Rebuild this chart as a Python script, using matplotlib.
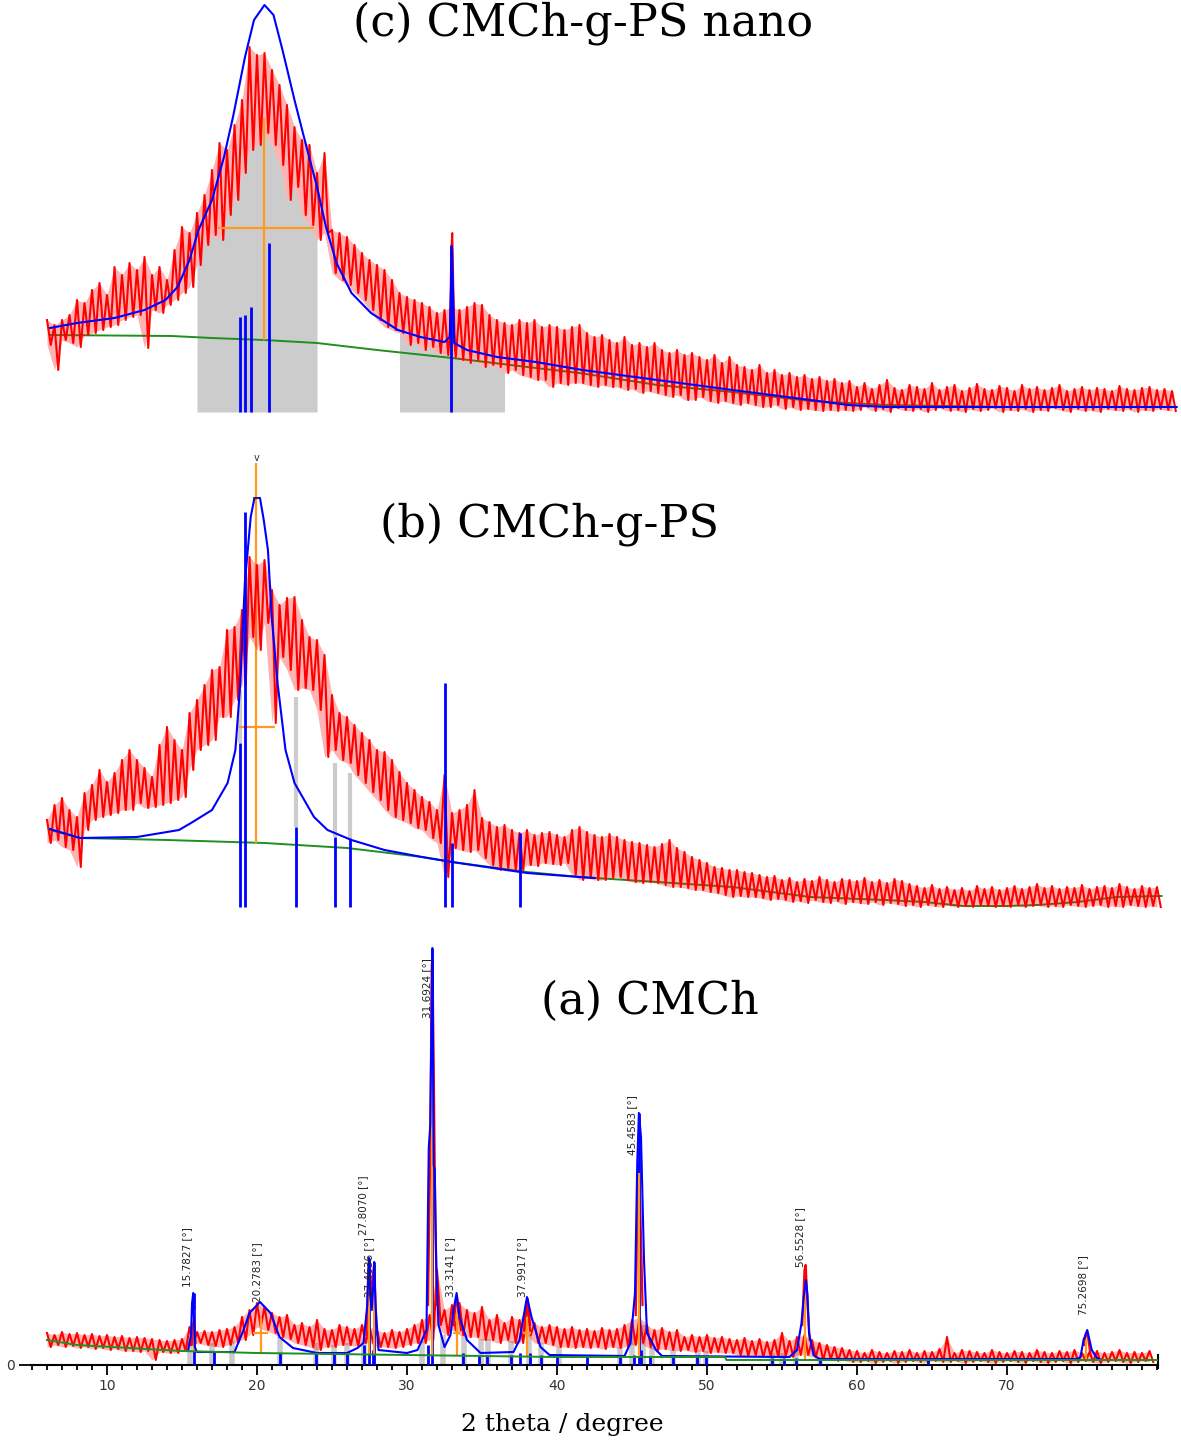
import numpy as np
import matplotlib
matplotlib.use("Agg")
import matplotlib.pyplot as plt

W, H = 1181, 1442
RED = "#ff0000"
BLUE = "#0000ff"
GREEN = "#1f8f1f"
ORANGE = "#ff9a1f"
GREY = "#cccccc"
SERIF = ["DejaVu Serif", "Liberation Serif"]
NARROW = ["Liberation Sans Narrow", "DejaVu Sans"]

# 2theta at the left / right figure edge (scale of the bottom axis)
X0, X1 = 10 - 107 / 15, 10 + (W - 107) / 15
STEP = 0.5  # red trace read every 0.5 deg: upper and lower edge of the noise band

# ---------------- (c) CMCh-g-PS nano ----------------
c_start = 6.0
c_hi = [95, 90, 95, 100, 115, 112, 125, 132, 120, 148,
        140, 152, 145, 158, 140, 148, 135, 165, 188, 182,
        202, 220, 245, 272, 265, 290, 315, 368, 360, 362,
        345, 330, 310, 288, 275, 270, 242, 262, 185, 182,
        178, 170, 162, 155, 150, 145, 135, 122, 118, 115,
        112, 108, 102, 105, 108, 105, 108, 112, 110, 100,
        95, 92, 90, 95, 92, 95, 88, 90, 88, 85,
        88, 90, 82, 78, 80, 75, 72, 78, 70, 72,
        68, 72, 65, 62, 65, 60, 62, 58, 55, 60,
        52, 58, 50, 48, 45, 50, 42, 45, 40, 42,
        38, 40, 36, 38, 34, 36, 32, 34,
        28, 32, 26, 30, 35, 27, 25, 30, 28, 26,
        32, 25, 28, 30, 24, 27, 31, 26, 25, 29,
        27, 24, 30, 26, 28, 25, 27, 30, 24, 26,
        28, 25, 27, 26, 24, 29, 26, 25, 27, 28,
        25, 26, 24]
c_lo = [70, 45, 75, 72, 68, 80, 82, 85, 88, 90,
        95, 98, 100, 67, 105, 102, 110, 115, 122, 128,
        150, 170, 180, 175, 200, 215, 242, 265, 270, 282,
        270, 250, 215, 228, 200, 190, 175, 182, 142, 135,
        130, 122, 115, 105, 95, 88, 85, 82, 70, 72,
        65, 68, 62, 60, 58, 55, 52, 55, 48, 50,
        48, 42, 45, 40, 38, 35, 35, 28, 32, 30,
        32, 32, 30, 28, 30, 28, 28, 25, 26, 22,
        24, 22, 20, 18, 20, 15, 15, 18, 14, 12,
        14, 12, 10, 12, 10, 8, 8, 10, 6, 8,
        5, 6, 5, 4, 5, 4, 5, 4,
        5, 8, 4, 6, 3, 7, 5, 4, 6, 3,
        5, 7, 4, 5, 3, 6, 4, 5, 7, 3,
        5, 4, 6, 3, 5, 4, 7, 5, 3, 6,
        4, 5, 3, 6, 5, 4, 6, 3, 5, 4,
        6, 5, 4]
c_spike_tt = [32.85, 32.95, 33.02, 33.1, 33.2]
c_spike = [70, 165, 182, 120, 65]
c_fit_tt = [6.2, 8.0, 10.5, 12.5, 13.9, 14.7, 15.5, 16.1, 17.0, 17.8,
            18.4, 19.2, 19.8, 20.5, 21.1, 21.7, 22.5, 23.3, 24.0, 24.6,
            25.3, 26.3, 27.6, 29.4, 30.9, 32.5, 32.85, 33.0, 33.15, 34.0,
            36.0, 38.6, 41.7, 46.7, 51.7, 56.9, 59.4, 62.0, 81.3]
c_fit = [87, 92, 97, 105, 115, 128, 155, 185, 215, 258,
         298, 358, 395, 410, 400, 365, 315, 268, 228, 188,
         152, 122, 102, 85, 78, 73, 78, 167, 72, 65,
         58, 53, 45, 35, 25, 15, 10, 8, 8]
c_bg_tt = [6.2, 14.3, 17.0, 20.5, 24.0, 28.0, 33.0, 38.6, 41.5, 46.7, 51.7, 56.9, 62.0, 70.0, 81.3]
c_bg = [80, 79, 77, 75, 72, 65, 57, 47, 42, 30, 23, 14, 10, 8, 8]
c_stick_tt = [18.87, 19.2, 19.6, 20.8, 32.9]
c_stick = [98, 100, 108, 172, 170]
c_regions = [(15.7, 24.3), (29.5, 36.5)]

# ---------------- (b) CMCh-g-PS ----------------
b_start = 6.0
b_hi = [90, 105, 112, 100, 93, 117, 125, 140, 128, 137,
        150, 160, 150, 142, 133, 165, 183, 170, 160, 197,
        210, 225, 240, 243, 280, 283, 300, 353, 345, 350,
        320, 305, 312, 313, 290, 273, 270, 255, 215, 197,
        193, 185, 177, 170, 160, 158, 150, 138, 127, 120,
        113, 108, 100, 135, 97, 100, 105, 120, 92, 88,
        83, 85, 80, 77, 80, 75, 77, 78, 75, 73,
        80, 83, 78, 75, 73, 76, 73, 70, 68, 67,
        65, 63, 66, 70, 62, 58, 53, 50, 47, 43,
        42, 40, 40, 38, 37, 35, 33, 34,
        30, 32, 28, 31, 29, 33, 30, 28, 31, 30,
        29, 32, 28, 30, 27, 31, 29, 26, 24, 22,
        25, 21, 23, 20, 22, 19, 24, 21, 23, 20,
        22, 24, 21, 23, 26, 22, 24, 21, 23, 22,
        25, 21, 23, 24, 22, 26, 23, 21, 24, 22,
        23]
b_lo = [67, 70, 63, 60, 43, 80, 90, 93, 95, 97,
        100, 100, 107, 102, 103, 105, 107, 110, 113, 140,
        160, 165, 170, 193, 193, 210, 225, 273, 260, 287,
        187, 253, 240, 220, 222, 220, 200, 153, 160, 150,
        147, 135, 127, 118, 110, 100, 93, 90, 87, 82,
        80, 72, 67, 33, 62, 60, 58, 60, 52, 45,
        40, 42, 40, 40, 45, 44, 47, 46, 45, 47,
        35, 30, 32, 30, 30, 32, 33, 30, 28, 27,
        28, 27, 25, 23, 23, 22, 20, 20, 18, 17,
        15, 13, 14, 13, 13, 12, 10, 11,
        10, 8, 9, 7, 10, 8, 7, 9, 6, 8,
        7, 6, 8, 5, 7, 6, 4, 5, 3, 5,
        4, 3, 5, 3, 4, 3, 5, 4, 3, 4,
        3, 5, 3, 4, 5, 3, 4, 3, 5, 4,
        3, 4, 5, 3, 4, 3, 5, 4, 3, 4,
        3]
b_fit_tt = [6.2, 8.2, 12.0, 14.8, 15.6, 17.0, 18.04, 18.56, 18.89, 19.19,
            19.58, 19.83, 20.2, 20.45, 20.73, 20.98, 21.37, 21.9, 22.5, 23.8,
            24.7, 26.3, 28.5, 31.0, 33.0, 38.0, 41.5, 42.5]
b_fit = [81, 72, 73, 80, 87, 100, 127, 160, 227, 327,
         393, 412, 412, 390, 360, 293, 227, 160, 127, 93,
         80, 70, 60, 53, 48, 37, 33, 32]
b_bg_tt = [6.2, 8.2, 14.0, 20.5, 26.0, 31.0, 33.0, 38.0, 41.5, 46.7,
           51.7, 56.9, 61.9, 64.5, 67.1, 70.0, 72.0, 74.7, 77.3, 80.3]
b_bg = [80, 72, 70, 67, 62, 53, 48, 38, 33, 28, 23, 13, 10, 8, 4, 4, 5, 8, 13, 14]
b_stick_tt = [18.85, 19.2, 22.6, 25.2, 26.2, 32.5, 33.0, 37.5]
b_stick = [167, 398, 83, 73, 72, 227, 67, 77]
b_grey_tt = [18.85, 22.6, 25.2, 26.2]
b_grey_lo = [167, 83, 73, 72]
b_grey_top = [220, 213, 147, 137]

# ---------------- (a) CMCh ----------------
a_start = 6.0
a_hi = [32, 30, 33, 31, 32, 30, 31, 29, 30, 28,
        29, 27, 28, 27, 26, 25, 24, 25, 26, 38,
        33, 34, 33, 35, 36, 38, 48, 55, 62, 58,
        52, 48, 50, 40, 42, 38, 45, 36, 35, 40,
        38, 36, 40, 38, 35, 32, 35, 33, 36, 40,
        45, 50, 95, 55, 60, 62, 55, 52, 58, 45,
        50, 42, 48, 45, 60, 42, 38, 40, 38, 36,
        38, 35, 36, 34, 37, 35, 36, 40, 45, 48,
        40, 35, 37, 33, 35, 28, 30, 28, 30, 27,
        28, 26, 25, 27, 24, 26, 23, 25, 32, 24,
        28, 30, 25, 22, 20, 18, 17, 15,
        14, 12, 15, 13, 12, 14, 13, 15, 12, 14,
        13, 16, 28, 12, 15, 14, 13, 12, 15, 13,
        12, 14, 13, 12, 15, 13, 12, 14, 13, 15,
        12, 13, 14, 12, 13, 15, 12, 13, 12, 14]
a_lo = [18, 20, 18, 19, 17, 18, 16, 17, 15, 16,
        14, 14, 13, 14, 5, 13, 12, 12, 14, 20,
        22, 20, 19, 18, 20, 22, 25, 30, 38, 35,
        32, 28, 26, 22, 20, 18, 15, 18, 18, 20,
        20, 19, 22, 22, 18, 18, 17, 18, 20, 22,
        22, 25, 40, 30, 35, 30, 28, 28, 25, 25,
        22, 25, 22, 22, 30, 22, 22, 20, 18, 18,
        17, 18, 17, 18, 16, 18, 17, 18, 20, 22,
        18, 15, 16, 15, 14, 15, 13, 14, 12, 13,
        12, 12, 10, 9, 10, 8, 9, 8, 9, 8,
        10, 10, 8, 5, 6, 4, 5, 3,
        3, 4, 2, 3, 4, 2, 3, 4, 3, 2,
        4, 3, 3, 4, 2, 3, 4, 3, 2, 3,
        4, 3, 2, 4, 3, 2, 3, 4, 2, 3,
        4, 3, 2, 3, 4, 3, 2, 3, 4, 3]
# red counts across the sharp reflections
a_peaks = [
    ([15.6, 15.72, 15.8, 15.9], [20, 40, 45, 22]),
    ([27.3, 27.42, 27.5, 27.6, 27.72, 27.82, 27.95], [30, 95, 105, 60, 90, 100, 40]),
    ([31.4, 31.55, 31.65, 31.7, 31.78, 31.88, 32.0], [60, 215, 400, 405, 300, 150, 60]),
    ([33.1, 33.25, 33.33, 33.45, 33.6], [40, 62, 68, 50, 35]),
    ([37.8, 37.95, 38.05, 38.2], [35, 62, 66, 40]),
    ([45.25, 45.38, 45.46, 45.55, 45.7], [50, 180, 198, 160, 60]),
    ([56.35, 56.5, 56.58, 56.7, 56.85], [40, 95, 100, 60, 25]),
    ([75.15, 75.27, 75.4, 75.55], [20, 32, 28, 12]),
]
a_fit_tt = [15.4, 15.6, 15.67, 15.75, 15.85, 16.0, 18.5, 19.1, 19.5, 20.2,
            20.9, 21.5, 22.4, 24.0, 26.0, 26.7, 27.1, 27.35, 27.46, 27.55,
            27.65, 27.75, 27.81, 27.9, 28.1, 30.0, 30.7, 31.3, 31.45, 31.55,
            31.69, 31.78, 31.85, 31.95, 32.1, 32.5, 32.9, 33.1, 33.31, 33.5,
            34.0, 34.9, 37.1, 37.5, 38.0, 38.3, 38.9, 39.5, 44.5, 44.9,
            45.2, 45.35, 45.46, 45.6, 45.8, 46.0, 46.6, 47.0, 55.5, 56.0,
            56.3, 56.45, 56.6, 56.7, 56.8, 57.1, 57.5, 74.7, 74.9, 75.1,
            75.35, 75.65, 76.0, 76.3]
a_fit = [14, 30, 62, 72, 18, 13, 13, 35, 52, 63,
         52, 28, 17, 12, 12, 17, 22, 60, 107, 70,
         55, 80, 103, 60, 15, 12, 15, 35, 217, 240,
         417, 200, 195, 100, 40, 18, 30, 55, 72, 48,
         25, 12, 13, 25, 68, 48, 18, 10, 9, 22,
         72, 202, 252, 228, 105, 32, 15, 9, 8, 15,
         42, 68, 85, 70, 32, 10, 6, 6, 8, 25,
         35, 15, 7, 5]
a_bg_tt = [6.0, 8.0, 15.0, 20.0, 30.0, 40.0, 51.2, 51.3, 80.0]
a_bg = [25, 20, 14, 12, 10, 8, 8, 5, 5]
a_stick_tt = [15.78, 17.1, 21.5, 23.9, 25.1, 26.0, 27.1, 27.46, 27.7, 27.81,
              31.4, 31.69, 33.7, 34.8, 35.3, 36.9, 37.5, 38.2, 38.9, 40.0,
              42.0, 44.2, 45.1, 45.46, 45.6, 46.2, 47.7, 49.3, 49.9, 54.3,
              55.1, 55.9, 57.5, 64.7]
a_stick = [72, 13, 12, 12, 12, 12, 20, 107, 15, 103,
           20, 417, 12, 10, 10, 10, 12, 12, 10, 9,
           9, 8, 10, 252, 15, 9, 8, 8, 8, 7,
           7, 7, 6, 5]
a_grey_tt = [15.5, 17.0, 18.3, 21.5, 23.9, 25.1, 26.0, 27.1, 31.0, 32.4,
             33.8, 34.9, 35.4, 36.9, 38.1, 38.9, 40.1, 44.2, 45.0, 45.7,
             46.3, 47.7, 49.4, 49.9, 54.3, 55.0, 55.9, 57.5]
a_grey_top = [25, 22, 24, 28, 22, 20, 22, 22, 24, 30,
              30, 26, 26, 24, 30, 22, 18, 18, 30, 40,
              18, 15, 15, 14, 12, 12, 15, 8]
a_pos = [15.78, 20.28, 27.46, 27.81, 31.69, 33.31, 37.99, 45.46, 56.55, 75.27]
a_mark_lo = [14, 12, 10, 10, 10, 10, 9, 8, 5, 5]
a_mark_hi = [55, 47, 108, 100, 325, 52, 48, 192, 75, 25]
a_labels = ["15.7827 [°]", "20.2783 [°]", "27.4636 [°]", "27.8070 [°]", "31.6924 [°]",
            "33.3141 [°]", "37.9917 [°]", "45.4583 [°]", "56.5528 [°]", "75.2698 [°]"]
a_label_x = [15.31, 19.98, 27.5, 27.05, 31.31, 32.9, 37.64, 44.98, 56.2, 75.07]
a_label_y = [78, 63, 68, 130, 347, 68, 68, 210, 98, 50]
a_fwhm = {20.28: (19.75, 20.75), 33.31: (33.05, 33.55), 37.99: (37.75, 38.25)}

fig = plt.figure(figsize=(W / 100, H / 100), dpi=100)


def panel(top, bottom):
    ax = fig.add_axes([0, 1 - bottom / H, 1, (bottom - top) / H])
    ax.set_xlim(X0, X1)
    ax.set_ylim(0, bottom - top)
    ax.patch.set_alpha(0)
    return ax


def red_trace(ax, start, hi, lo):
    tt = start + STEP * np.arange(len(hi))
    x = np.column_stack([tt, tt + STEP / 2]).ravel()
    y = np.column_stack([hi, lo]).ravel()
    # dense noise band behind the measured trace
    ax.fill_between(tt, lo, hi, color=RED, alpha=0.3, lw=0, zorder=3)
    ax.plot(x, y, color=RED, lw=1.5, zorder=3)
    return tt


# ---- panel c ----
axc = panel(0, 415)
axc.axis("off")
tt = red_trace(axc, c_start, c_hi, c_lo)
lo = np.array(c_lo)
for a, b in c_regions:
    m = (tt >= a) & (tt <= b)
    axc.fill_between(tt[m], 3, lo[m], color=GREY, lw=0, zorder=1)
axc.plot(c_spike_tt, c_spike, color=RED, lw=1.4, zorder=3)
axc.plot(c_bg_tt, c_bg, color=GREEN, lw=1.4, zorder=2)
axc.vlines(c_stick_tt, 3, c_stick, color=BLUE, lw=2, zorder=5)
axc.vlines([20.47, 33.0], [75, 57], [297, 125], color=ORANGE, lw=1.6, zorder=4)
axc.hlines(187, 17.4, 23.8, color=ORANGE, lw=1.6, zorder=4)
axc.plot(c_fit_tt, c_fit, color=BLUE, lw=1.5, zorder=6)

# ---- panel b ----
axb = panel(450, 910)
axb.axis("off")
red_trace(axb, b_start, b_hi, b_lo)
axb.vlines(b_grey_tt, b_grey_lo, b_grey_top, color=GREY, lw=3, zorder=2)
axb.plot(b_bg_tt, b_bg, color=GREEN, lw=1.4, zorder=2)
axb.vlines(19.95, 67, 447, color=ORANGE, lw=1.6, zorder=2)
axb.hlines(183, 18.8, 21.2, color=ORANGE, lw=1.6, zorder=4)
axb.hlines(412, 19.75, 20.15, color="#333333", lw=1.2, zorder=7)
axb.text(19.95, 447, "v", ha="center", va="bottom", fontsize=7, color="#333333")
axb.vlines(b_stick_tt, 3, b_stick, color=BLUE, lw=2, zorder=5)
axb.plot(b_fit_tt, b_fit, color=BLUE, lw=1.5, zorder=6)

# ---- panel a ----
axa = panel(940, 1365)
red_trace(axa, a_start, a_hi, a_lo)
for px, py in a_peaks:
    axa.plot(px, py, color=RED, lw=1.6, zorder=3)
axa.vlines(a_grey_tt, 0, a_grey_top, color=GREY, lw=4, zorder=1)
axa.vlines(a_stick_tt, 0, a_stick, color=BLUE, lw=2, zorder=4)
axa.vlines(a_pos, a_mark_lo, a_mark_hi, color=ORANGE, lw=1.6, zorder=5)
for p, (l, r) in a_fwhm.items():
    axa.hlines(32, l, r, color=ORANGE, lw=1.6, zorder=5)
axa.plot(a_fit_tt, a_fit, color=BLUE, lw=1.5, zorder=6)
axa.plot(a_bg_tt, a_bg, color=GREEN, lw=1.4, zorder=7)
for s, x, y in zip(a_labels, a_label_x, a_label_y):
    axa.text(x, y, s, rotation=90, ha="center", va="bottom", fontsize=7.5,
             family=NARROW, color="#222222", zorder=8)

for s in ["top", "left"]:
    axa.spines[s].set_visible(False)
axa.spines["left"].set_position(("data", 4.9))
axa.spines["left"].set_linewidth(0)
axa.spines["right"].set_position(("data", 80.05))
axa.spines["right"].set_bounds(-3, 10)
axa.spines["right"].set_linewidth(1.5)
axa.spines["bottom"].set_bounds(4.9, 80.05)
axa.spines["bottom"].set_linewidth(1.5)
axa.set_xticks(range(10, 80, 10))
axa.set_xticks(range(5, 81), minor=True)
axa.set_yticks([0])
axa.tick_params(axis="x", which="major", length=7, width=1.3, pad=3, labelsize=10)
axa.tick_params(axis="x", which="minor", length=3.5, width=1.3)
axa.tick_params(axis="y", length=9, width=1.3, pad=2, labelsize=10)
for lab in axa.get_xticklabels() + axa.get_yticklabels():
    lab.set_family(NARROW)
    lab.set_color("#333333")

# titles
fig.text(583 / W, 1 - 23 / H, "(c) CMCh-g-PS nano", ha="center", va="center", fontsize=32, family=SERIF)
fig.text(550 / W, 1 - 524 / H, "(b) CMCh-g-PS", ha="center", va="center", fontsize=32, family=SERIF)
fig.text(650 / W, 1 - 1001 / H, "(a) CMCh", ha="center", va="center", fontsize=32, family=SERIF)
fig.text(562 / W, 1 - 1425 / H, "2 theta / degree", ha="center", va="center", fontsize=18, family=SERIF)

fig.savefig("out.png", dpi=100)
